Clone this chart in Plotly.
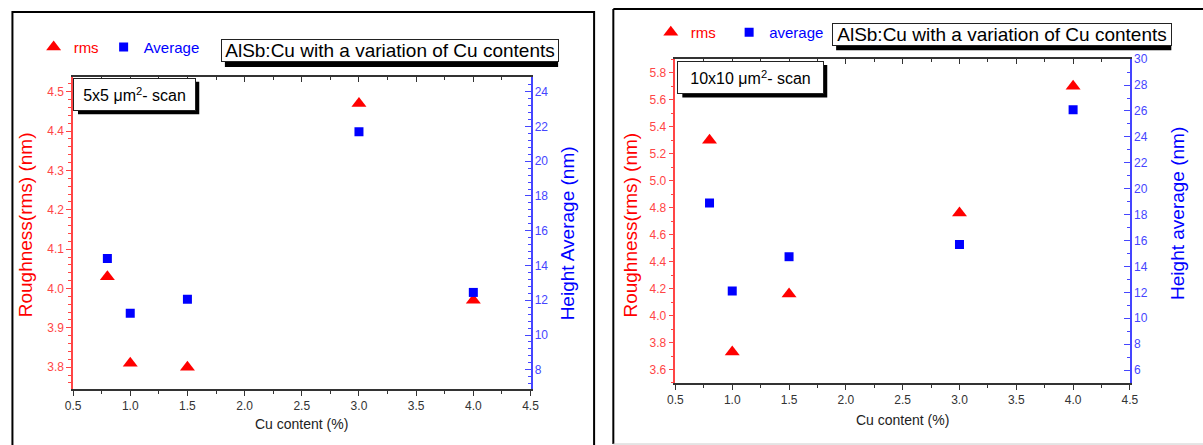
import plotly.graph_objects as go

# Cu content (%) of the AlSb:Cu films
cu_content = [0.8, 1.0, 1.5, 3.0, 4.0]

# 5x5 um^2 scan
rms_5x5 = [4.03, 3.81, 3.80, 4.47, 3.97]          # roughness (rms), nm
avg_5x5 = [14.4, 11.25, 12.05, 21.7, 12.45]       # height average, nm

# 10x10 um^2 scan
rms_10x10 = [5.30, 3.73, 4.16, 4.76, 5.70]        # roughness (rms), nm
avg_10x10 = [18.9, 12.1, 14.75, 15.7, 26.1]       # height average, nm

x_ticks = [0.5, 1.0, 1.5, 2.0, 2.5, 3.0, 3.5, 4.0, 4.5]

W, H = 1203, 445
FONT = "Liberation Sans, Arial, sans-serif"
RED, BLUE = "#ff0000", "#0000ff"
RED_AX, BLUE_AX = "#ff4545", "#4545ff"
DARK = "#333333"
NBSP = "\u00a0"


def px(x):
    return x / W


def py(y):
    return 1 - y / H


fig = go.Figure()

# ---- left panel (5x5) ----
fig.add_trace(go.Scatter(x=cu_content, y=rms_5x5, mode="markers", name=f"<span style='color:{RED}'>rms</span>",
                         marker=dict(symbol="triangle-up", size=13, color=RED), xaxis="x", yaxis="y", legend="legend"))
fig.add_trace(go.Scatter(x=cu_content, y=avg_5x5, mode="markers", name=f"<span style='color:{BLUE}'>Average</span>",
                         marker=dict(symbol="square", size=9, color=BLUE), xaxis="x", yaxis="y2", legend="legend"))
fig.add_trace(go.Scatter(x=[], y=[], mode="markers", showlegend=False, hoverinfo="skip", xaxis="x2", yaxis="y"))

# ---- right panel (10x10) ----
fig.add_trace(go.Scatter(x=cu_content, y=rms_10x10, mode="markers",
                         name=f"<span style='color:{RED}'>rms</span>" + NBSP * 2,
                         marker=dict(symbol="triangle-up", size=13, color=RED), xaxis="x3", yaxis="y3", legend="legend2"))
fig.add_trace(go.Scatter(x=cu_content, y=avg_10x10, mode="markers", name=f"<span style='color:{BLUE}'>average</span>",
                         marker=dict(symbol="square", size=9, color=BLUE), xaxis="x3", yaxis="y4", legend="legend2"))
fig.add_trace(go.Scatter(x=[], y=[], mode="markers", showlegend=False, hoverinfo="skip", xaxis="x4", yaxis="y3"))

L_dom_x = [px(66), px(530)]
L_dom_y = [py(388), py(71)]
R_dom_x = [px(677), px(1138)]
R_dom_y = [py(382), py(53)]


def bottom_axis(domain, anchor):
    return dict(domain=domain, anchor=anchor, range=[0.5, 4.5], tickvals=x_ticks, tickformat=".1f",
                ticks="outside", ticklen=5, tickwidth=1, tickcolor=DARK,
                minor=dict(dtick=0.25, tick0=0.5, ticks="outside", ticklen=3, tickcolor=DARK),
                showline=True, linecolor=DARK, linewidth=1.5, showgrid=False, zeroline=False,
                tickfont=dict(family=FONT, size=12, color=DARK))


def top_axis(overlay, anchor):
    return dict(overlaying=overlay, anchor=anchor, side="top", range=[0.5, 4.5], tickvals=x_ticks,
                showticklabels=False, ticks="inside", ticklen=5, tickcolor=DARK,
                minor=dict(dtick=0.25, tick0=0.5, ticks="inside", ticklen=3, tickcolor=DARK),
                showline=True, linecolor=DARK, linewidth=1.5, showgrid=False, zeroline=False)


def left_axis(domain, anchor, rng, dtick, minor):
    return dict(domain=domain, anchor=anchor, range=rng, dtick=dtick, tick0=0, tickformat=".1f",
                ticks="outside", ticklen=5, tickcolor=RED_AX,
                minor=dict(dtick=minor, tick0=0, ticks="outside", ticklen=3, tickcolor=RED_AX),
                showline=True, linecolor=RED_AX, linewidth=1.5, showgrid=False, zeroline=False,
                tickfont=dict(family=FONT, size=12, color=RED_AX))


def right_axis(overlay, anchor, rng, dtick, minor):
    return dict(overlaying=overlay, anchor=anchor, side="right", range=rng, dtick=dtick, tick0=0,
                ticks="inside", ticklen=6, tickcolor=BLUE_AX,
                minor=dict(dtick=minor, tick0=0, ticks="inside", ticklen=3, tickcolor=BLUE_AX),
                showline=True, linecolor=BLUE_AX, linewidth=1.5, showgrid=False, zeroline=False,
                tickfont=dict(family=FONT, size=12, color=BLUE_AX))


annotations = []
shapes = []


def boxed_label(x0, y0, x1, y1, text, size, dx, dy):
    # drop shadow, then the white framed label on top
    shapes.append(dict(type="rect", xref="paper", yref="paper", x0=px(x0 + dx), x1=px(x1 + dx),
                       y0=py(y1 + dy), y1=py(y0 + dy), fillcolor="black", line=dict(width=0), layer="above"))
    annotations.append(dict(xref="paper", yref="paper", x=px(x0), y=py(y0), xanchor="left", yanchor="top",
                            text=text, showarrow=False, width=x1 - x0 - 2, height=y1 - y0 - 2,
                            bgcolor="white", bordercolor="#222222", borderwidth=1, borderpad=0,
                            font=dict(family=FONT, size=size, color="black")))


def vtitle(x, y, text, color):
    annotations.append(dict(xref="paper", yref="paper", x=px(x), y=py(y), xanchor="center", yanchor="middle",
                            text=text, textangle=-90, showarrow=False,
                            font=dict(family=FONT, size=19, color=color)))


def htitle(x, y, text):
    annotations.append(dict(xref="paper", yref="paper", x=px(x), y=py(y), xanchor="center", yanchor="middle",
                            text=text, showarrow=False, font=dict(family=FONT, size=14, color="#222222")))


title_text = "AlSb:Cu with a variation of Cu contents"
boxed_label(216, 33, 554, 56, title_text, 19, 4, 5)
boxed_label(836, 16, 1176, 39, title_text, 19, 4, 5)
boxed_label(66, 72, 189, 105, "5x5 \u03bcm<sup>2</sup>- scan", 16, 5, 4)
boxed_label(679, 55, 826, 88, "10x10 \u03bcm<sup>2</sup>- scan", 16, 5, 4)

vtitle(18, 221, "Roughness(rms) (nm)", RED)
vtitle(567, 230, "Height Average (nm)", BLUE)
vtitle(631, 222, "Roughness(rms) (nm)", RED)
vtitle(1186, 210, "Height average (nm)", BLUE)
htitle(298, 424, "Cu content (%)")
htitle(907, 420, "Cu content (%)")

# panel frames
shapes += [
    dict(type="rect", xref="paper", yref="paper", x0=px(4.5), x1=px(594.5), y0=-0.05, y1=py(5),
         line=dict(color="black", width=2), layer="below"),
    dict(type="line", xref="paper", yref="paper", x0=px(614), x1=px(614), y0=py(444), y1=py(2),
         line=dict(color="black", width=2)),
    dict(type="line", xref="paper", yref="paper", x0=px(614), x1=1.01, y0=py(2), y1=py(2),
         line=dict(color="black", width=2)),
    dict(type="line", xref="paper", yref="paper", x0=px(614), x1=1.01, y0=py(444), y1=py(444),
         line=dict(color="#cccccc", width=1)),
]

legend_common = dict(orientation="h", xanchor="left", yanchor="middle", bgcolor="rgba(0,0,0,0)",
                     font=dict(family=FONT, size=15), itemclick=False)

fig.update_layout(
    width=W, height=H, margin=dict(l=0, r=0, t=0, b=0),
    paper_bgcolor="white", plot_bgcolor="white",
    xaxis=bottom_axis(L_dom_x, "y"),
    xaxis2=top_axis("x", "y"),
    yaxis=left_axis(L_dom_y, "x", [3.745, 4.5375], 0.1, 0.02),
    yaxis2=right_axis("y", "x", [6.9, 24.85], 2, 0.4),
    xaxis3=bottom_axis(R_dom_x, "y3"),
    xaxis4=top_axis("x3", "y3"),
    yaxis3=left_axis(R_dom_y, "x3", [3.5, 5.9], 0.2, 0.1),
    yaxis4=right_axis("y3", "x3", [5, 30], 2, 1),
    legend=dict(x=px(26), y=py(41), **legend_common),
    legend2=dict(x=px(652), y=py(26), **legend_common),
    annotations=annotations,
    shapes=shapes,
)

fig.write_html("out.html")
